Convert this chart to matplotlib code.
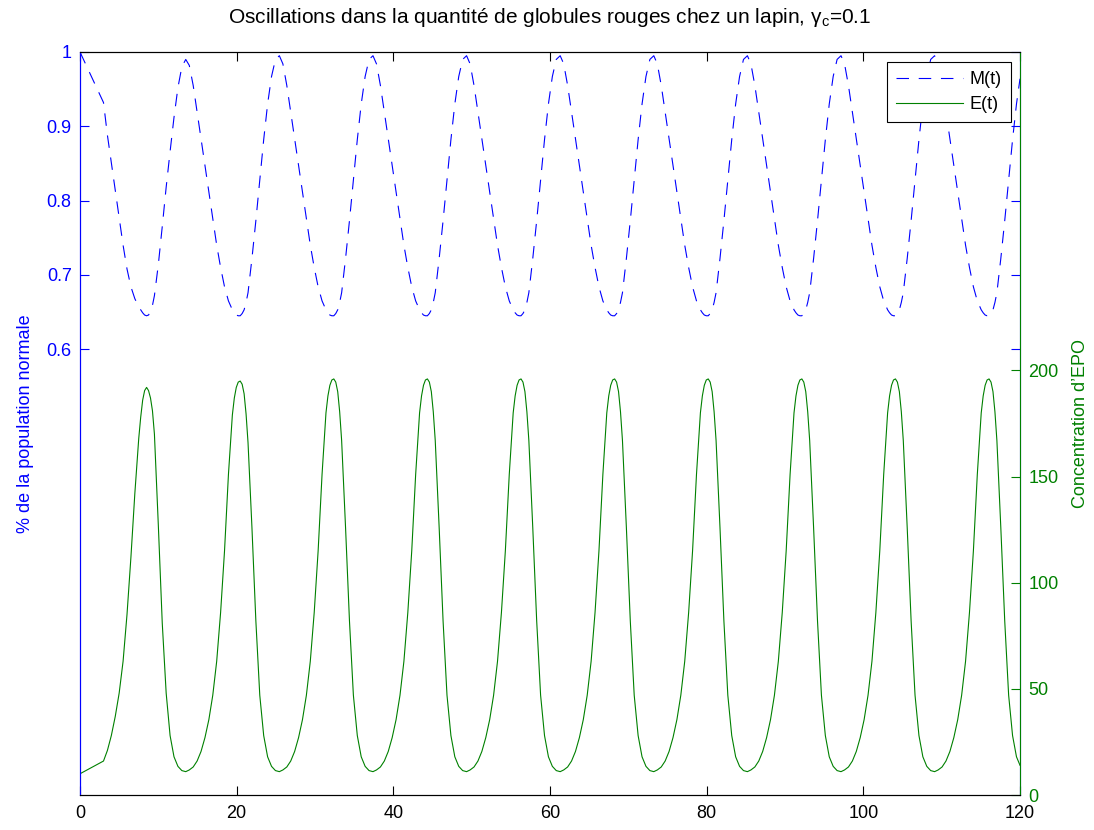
import numpy as np
import matplotlib
matplotlib.use('Agg')
import matplotlib.pyplot as plt
from matplotlib.lines import Line2D

plt.rcParams['font.family'] = ['Liberation Sans', 'DejaVu Sans']
plt.rcParams['mathtext.fontset'] = 'custom'
plt.rcParams['mathtext.rm'] = 'Liberation Sans'
plt.rcParams['lines.scale_dashes'] = False

# ---- data (one row per oscillation cycle) ----
time = [
    0.0, 3.0, 3.5, 4.0, 4.5, 5.0, 5.5, 6.0, 6.5, 7.0, 7.5, 7.75, 8.0, 8.25, 8.5, 8.75, 9.0, 9.25, 9.5, 10.0, 10.5, 11.0, 11.5, 12.0, 12.5, 13.0, 13.5,
    13.95, 14.45, 14.95, 15.45, 15.95, 16.45, 16.95, 17.45, 17.95, 18.45, 18.95, 19.45, 19.7, 19.95, 20.2, 20.45, 20.7, 20.95, 21.2, 21.45, 21.95, 22.45, 22.95, 23.45, 23.95, 24.45, 24.95, 25.45,
    25.9, 26.4, 26.9, 27.4, 27.9, 28.4, 28.9, 29.4, 29.9, 30.4, 30.9, 31.4, 31.65, 31.9, 32.15, 32.4, 32.65, 32.9, 33.15, 33.4, 33.9, 34.4, 34.9, 35.4, 35.9, 36.4, 36.9, 37.4,
    37.85, 38.35, 38.85, 39.35, 39.85, 40.35, 40.85, 41.35, 41.85, 42.35, 42.85, 43.35, 43.6, 43.85, 44.1, 44.35, 44.6, 44.85, 45.1, 45.35, 45.85, 46.35, 46.85, 47.35, 47.85, 48.35, 48.85, 49.35,
    49.8, 50.3, 50.8, 51.3, 51.8, 52.3, 52.8, 53.3, 53.8, 54.3, 54.8, 55.3, 55.55, 55.8, 56.05, 56.3, 56.55, 56.8, 57.05, 57.3, 57.8, 58.3, 58.8, 59.3, 59.8, 60.3, 60.8, 61.3,
    61.75, 62.25, 62.75, 63.25, 63.75, 64.25, 64.75, 65.25, 65.75, 66.25, 66.75, 67.25, 67.5, 67.75, 68.0, 68.25, 68.5, 68.75, 69.0, 69.25, 69.75, 70.25, 70.75, 71.25, 71.75, 72.25, 72.75, 73.25,
    73.7, 74.2, 74.7, 75.2, 75.7, 76.2, 76.7, 77.2, 77.7, 78.2, 78.7, 79.2, 79.45, 79.7, 79.95, 80.2, 80.45, 80.7, 80.95, 81.2, 81.7, 82.2, 82.7, 83.2, 83.7, 84.2, 84.7, 85.2,
    85.65, 86.15, 86.65, 87.15, 87.65, 88.15, 88.65, 89.15, 89.65, 90.15, 90.65, 91.15, 91.4, 91.65, 91.9, 92.15, 92.4, 92.65, 92.9, 93.15, 93.65, 94.15, 94.65, 95.15, 95.65, 96.15, 96.65, 97.15,
    97.6, 98.1, 98.6, 99.1, 99.6, 100.1, 100.6, 101.1, 101.6, 102.1, 102.6, 103.1, 103.35, 103.6, 103.85, 104.1, 104.35, 104.6, 104.85, 105.1, 105.6, 106.1, 106.6, 107.1, 107.6, 108.1, 108.6, 109.1,
    109.55, 110.05, 110.55, 111.05, 111.55, 112.05, 112.55, 113.05, 113.55, 114.05, 114.55, 115.05, 115.3, 115.55, 115.8, 116.05, 116.3, 116.55, 116.8, 117.05, 117.55, 118.05, 118.55, 119.05, 119.55, 120.0,
]

m_values = [
    1.000, 0.932, 0.888, 0.851, 0.814, 0.777, 0.740, 0.708, 0.684, 0.668, 0.657, 0.653, 0.649, 0.646, 0.645, 0.646, 0.651, 0.659, 0.672, 0.714, 0.765, 0.818, 0.866, 0.912, 0.952, 0.980, 0.990,
    0.982, 0.955, 0.919, 0.882, 0.846, 0.810, 0.775, 0.740, 0.710, 0.684, 0.665, 0.653, 0.649, 0.646, 0.645, 0.645, 0.648, 0.653, 0.663, 0.676, 0.722, 0.773, 0.828, 0.882, 0.930, 0.967, 0.990, 0.995,
    0.984, 0.955, 0.919, 0.882, 0.846, 0.810, 0.775, 0.740, 0.710, 0.684, 0.665, 0.653, 0.649, 0.646, 0.645, 0.645, 0.648, 0.653, 0.663, 0.676, 0.722, 0.773, 0.828, 0.882, 0.930, 0.967, 0.990, 0.995,
    0.984, 0.955, 0.919, 0.882, 0.846, 0.810, 0.775, 0.740, 0.710, 0.684, 0.665, 0.653, 0.649, 0.646, 0.645, 0.645, 0.648, 0.653, 0.663, 0.676, 0.722, 0.773, 0.828, 0.882, 0.930, 0.967, 0.990, 0.995,
    0.984, 0.955, 0.919, 0.882, 0.846, 0.810, 0.775, 0.740, 0.710, 0.684, 0.665, 0.653, 0.649, 0.646, 0.645, 0.645, 0.648, 0.653, 0.663, 0.676, 0.722, 0.773, 0.828, 0.882, 0.930, 0.967, 0.990, 0.995,
    0.984, 0.955, 0.919, 0.882, 0.846, 0.810, 0.775, 0.740, 0.710, 0.684, 0.665, 0.653, 0.649, 0.646, 0.645, 0.645, 0.648, 0.653, 0.663, 0.676, 0.722, 0.773, 0.828, 0.882, 0.930, 0.967, 0.990, 0.995,
    0.984, 0.955, 0.919, 0.882, 0.846, 0.810, 0.775, 0.740, 0.710, 0.684, 0.665, 0.653, 0.649, 0.646, 0.645, 0.645, 0.648, 0.653, 0.663, 0.676, 0.722, 0.773, 0.828, 0.882, 0.930, 0.967, 0.990, 0.995,
    0.984, 0.955, 0.919, 0.882, 0.846, 0.810, 0.775, 0.740, 0.710, 0.684, 0.665, 0.653, 0.649, 0.646, 0.645, 0.645, 0.648, 0.653, 0.663, 0.676, 0.722, 0.773, 0.828, 0.882, 0.930, 0.967, 0.990, 0.995,
    0.984, 0.955, 0.919, 0.882, 0.846, 0.810, 0.775, 0.740, 0.710, 0.684, 0.665, 0.653, 0.649, 0.646, 0.645, 0.645, 0.648, 0.653, 0.663, 0.676, 0.722, 0.773, 0.828, 0.882, 0.930, 0.967, 0.990, 0.995,
    0.984, 0.955, 0.919, 0.882, 0.846, 0.810, 0.775, 0.740, 0.710, 0.684, 0.665, 0.653, 0.649, 0.646, 0.645, 0.645, 0.648, 0.653, 0.663, 0.676, 0.722, 0.773, 0.828, 0.882, 0.930, 0.964,
]

e_values = [
    10.0, 16.0, 21.0, 28.0, 37.0, 48.0, 63.0, 85.0, 112.0, 142.0, 168.0, 178.0, 186.0, 190.5, 192.0, 190.5, 187.0, 181.0, 170.0, 127.0, 81.0, 48.0, 28.0, 18.0, 13.5, 11.5, 11.0,
    11.8, 13.2, 16.0, 20.5, 27.0, 35.5, 47.0, 63.0, 86.0, 115.0, 151.0, 179.0, 187.0, 192.0, 194.5, 195.0, 193.5, 189.0, 179.5, 166.0, 126.0, 82.0, 47.0, 28.0, 18.0, 13.5, 11.5, 11.0,
    11.8, 13.2, 16.0, 20.5, 27.0, 35.5, 47.0, 63.0, 86.0, 115.0, 151.0, 180.0, 188.0, 193.0, 195.5, 196.0, 194.5, 190.0, 180.5, 167.0, 126.0, 82.0, 47.0, 28.0, 18.0, 13.5, 11.5, 11.0,
    11.8, 13.2, 16.0, 20.5, 27.0, 35.5, 47.0, 63.0, 86.0, 115.0, 151.0, 180.0, 188.0, 193.0, 195.5, 196.0, 194.5, 190.0, 180.5, 167.0, 126.0, 82.0, 47.0, 28.0, 18.0, 13.5, 11.5, 11.0,
    11.8, 13.2, 16.0, 20.5, 27.0, 35.5, 47.0, 63.0, 86.0, 115.0, 151.0, 180.0, 188.0, 193.0, 195.5, 196.0, 194.5, 190.0, 180.5, 167.0, 126.0, 82.0, 47.0, 28.0, 18.0, 13.5, 11.5, 11.0,
    11.8, 13.2, 16.0, 20.5, 27.0, 35.5, 47.0, 63.0, 86.0, 115.0, 151.0, 180.0, 188.0, 193.0, 195.5, 196.0, 194.5, 190.0, 180.5, 167.0, 126.0, 82.0, 47.0, 28.0, 18.0, 13.5, 11.5, 11.0,
    11.8, 13.2, 16.0, 20.5, 27.0, 35.5, 47.0, 63.0, 86.0, 115.0, 151.0, 180.0, 188.0, 193.0, 195.5, 196.0, 194.5, 190.0, 180.5, 167.0, 126.0, 82.0, 47.0, 28.0, 18.0, 13.5, 11.5, 11.0,
    11.8, 13.2, 16.0, 20.5, 27.0, 35.5, 47.0, 63.0, 86.0, 115.0, 151.0, 180.0, 188.0, 193.0, 195.5, 196.0, 194.5, 190.0, 180.5, 167.0, 126.0, 82.0, 47.0, 28.0, 18.0, 13.5, 11.5, 11.0,
    11.8, 13.2, 16.0, 20.5, 27.0, 35.5, 47.0, 63.0, 86.0, 115.0, 151.0, 180.0, 188.0, 193.0, 195.5, 196.0, 194.5, 190.0, 180.5, 167.0, 126.0, 82.0, 47.0, 28.0, 18.0, 13.5, 11.5, 11.0,
    11.8, 13.2, 16.0, 20.5, 27.0, 35.5, 47.0, 63.0, 86.0, 115.0, 151.0, 180.0, 188.0, 193.0, 195.5, 196.0, 194.5, 190.0, 180.5, 167.0, 126.0, 82.0, 47.0, 28.0, 18.0, 14.0,
]

x_ticks = [0, 20, 40, 60, 80, 100, 120]
left_ticks = [0.6, 0.7, 0.8, 0.9, 1.0]
left_tick_labels = ['0.6', '0.7', '0.8', '0.9', '1']
right_ticks = [0, 50, 100, 150, 200]
series_labels = ['M(t)', 'E(t)']
title = 'Oscillations dans la quantité de globules rouges chez un lapin, γ$_\\mathregular{c}$=0.1'
left_label = '% de la population normale'
right_label = 'Concentration d’EPO'

BLUE = (0, 0, 1)
GREEN = (0, 0.5, 0)

fig = plt.figure(figsize=(10.94, 8.30), dpi=100)
W, H = 1094, 830
ax = fig.add_axes([80 / W, 1 - 795 / H, 940 / W, 743 / H])
ax2 = ax.twinx()

ax.plot(time, m_values, color=BLUE, lw=0.8, dashes=(9, 7))
ax2.plot(time, e_values, color=GREEN, lw=0.8)

ax.set_xlim(0, 120)
ax.set_ylim(0, 1)
ax2.set_ylim(0, 350)
ax.set_xticks(x_ticks)
ax.set_xticklabels([str(v) for v in x_ticks])
ax.set_yticks(left_ticks)
ax.set_yticklabels(left_tick_labels)
ax2.set_yticks(right_ticks)
ax2.set_yticklabels([str(v) for v in right_ticks])

ax.tick_params(axis='x', direction='in', top=True, bottom=True, length=6.5,
               labelsize=13, pad=7, colors='black')
ax.tick_params(axis='y', direction='in', left=True, right=True, length=6.5,
               labelsize=13, pad=6, colors=BLUE)
ax2.tick_params(axis='y', direction='in', left=False, right=True, length=6.5,
                labelsize=13, pad=6, colors=GREEN)

for a in (ax, ax2):
    a.spines['top'].set_color('black')
    a.spines['bottom'].set_color('black')
    a.spines['left'].set_color(BLUE)
ax.spines['right'].set_color(BLUE)
ax2.spines['right'].set_color(GREEN)

ax.set_ylabel(left_label, color=BLUE, fontsize=13)
ax.yaxis.set_label_coords(-0.049, 0.5)
ax2.set_ylabel(right_label, color=GREEN, fontsize=13)
ax2.yaxis.set_label_coords(1.0553, 0.5)

ax.set_title(title, fontsize=15, pad=21)

handles = [Line2D([], [], color=BLUE, lw=0.8, dashes=(9, 7)),
           Line2D([], [], color=GREEN, lw=0.8)]
leg = ax2.legend(handles, series_labels, loc='upper right',
                 bbox_to_anchor=((1011 - 80) / 940, (795 - 62) / 743),
                 borderaxespad=0, fancybox=False, framealpha=1,
                 edgecolor='black', fontsize=13, handlelength=3.7,
                 handletextpad=0.4, borderpad=0.5, labelspacing=0.45)
leg.get_frame().set_linewidth(0.8)

fig.savefig('out.png', dpi=100)
